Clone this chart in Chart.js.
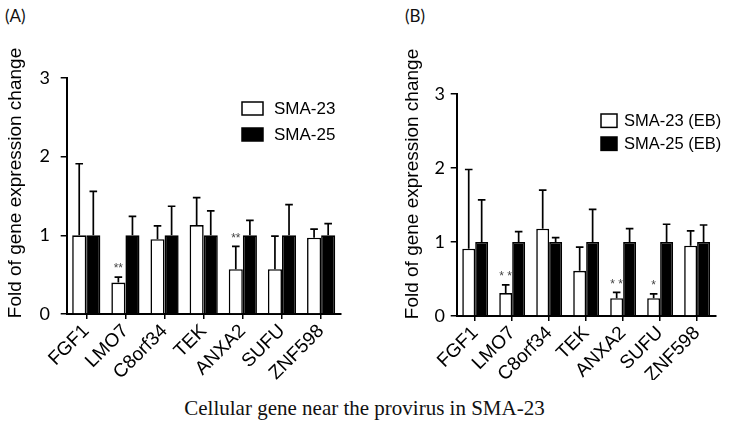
<!DOCTYPE html>
<html><head><meta charset="utf-8">
<script src="https://cdn.jsdelivr.net/npm/chart.js@4.4.1/dist/chart.umd.min.js"></script>
<style>
html,body{margin:0;padding:0;background:#fff;width:729px;height:433px;overflow:hidden;}
#a{position:absolute;left:0;top:0;width:360px;height:380px;}
#b{position:absolute;left:370px;top:0;width:359px;height:380px;}
.pl{position:absolute;font-family:Lato,sans-serif;font-size:17px;color:#111;}
#cap{position:absolute;left:0;width:729px;top:396px;text-align:center;font-family:"Liberation Serif",serif;font-size:21px;color:#111;}
</style></head><body>
<div class="pl" style="left:5px;top:5px">(A)</div>
<div class="pl" style="left:405px;top:5px">(B)</div>
<div id="a"><canvas id="ca"></canvas></div>
<div id="b"><canvas id="cb"></canvas></div>
<div id="cap">Cellular gene near the provirus in SMA-23</div>
<script>
const categories = ['FGF1','LMO7','C8orf34','TEK','ANXA2','SUFU','ZNF598'];
const axisTitle = 'Fold of gene expression change';
const yTicks = [0,1,2,3];

// Panel A
const seriesA = ['SMA-23','SMA-25'];
const a23 = [1.00, 0.40, 0.95, 1.13, 0.57, 0.57, 0.97];
const a23Err = [1.91, 0.47, 1.12, 1.48, 0.86, 0.99, 1.08];
const a23Stars = ['', '**', '', '', '**', '', ''];
const a25 = [1, 1, 1, 1, 1, 1, 1];
const a25Err = [1.56, 1.24, 1.37, 1.31, 1.19, 1.39, 1.15];

// Panel B
const seriesB = ['SMA-23 (EB)','SMA-25 (EB)'];
const b23 = [0.91, 0.31, 1.18, 0.61, 0.24, 0.24, 0.95];
const b23Err = [1.98, 0.42, 1.70, 0.93, 0.32, 0.30, 1.15];
const b23Stars = ['', '* *', '', '', '* *', '*', ''];
const b25 = [1, 1, 1, 1, 1, 1, 1];
const b25Err = [1.57, 1.14, 1.06, 1.44, 1.18, 1.24, 1.23];

const errPlugin = {
  id:'errBars',
  afterDatasetsDraw(chart){
    const ctx = chart.ctx, y = chart.scales.y;
    chart.data.datasets.forEach((ds,i)=>{
      const meta = chart.getDatasetMeta(i);
      meta.data.forEach((bar,j)=>{
        const top = y.getPixelForValue(ds.errTop[j]);
        const base = y.getPixelForValue(ds.data[j]);
        ctx.save();
        ctx.strokeStyle = '#000'; ctx.lineWidth = 1.7;
        ctx.beginPath();
        ctx.moveTo(bar.x, base); ctx.lineTo(bar.x, top);
        ctx.moveTo(bar.x-3.8, top); ctx.lineTo(bar.x+3.8, top);
        ctx.stroke();
        const s = ds.stars && ds.stars[j];
        if (s) {
          ctx.fillStyle = '#444';
          ctx.font = '12px "Liberation Sans"';
          ctx.textAlign = 'center'; ctx.textBaseline = 'middle';
          ctx.fillText(s, bar.x, top - 8);
        }
        ctx.restore();
      });
    });
  }
};

const legendPlugin = {
  id:'boxLegend',
  afterDraw(chart, args, o){
    const ctx = chart.ctx;
    chart.data.datasets.forEach((ds,i)=>{
      const x = o.x, y = o.y + i*o.gap;
      ctx.save();
      ctx.fillStyle = ds.backgroundColor; ctx.fillRect(x, y, o.w, o.h);
      ctx.strokeStyle = '#000'; ctx.lineWidth = 1.5; ctx.strokeRect(x, y, o.w, o.h);
      ctx.fillStyle = '#000'; ctx.font = o.font;
      ctx.textBaseline = 'middle'; ctx.textAlign = 'left';
      ctx.fillText(ds.label, x + o.w + o.textGap, y + o.h/2 + 1);
      ctx.restore();
    });
  }
};

const yTitlePlugin = {
  id:'yTitle',
  afterDraw(chart, args, o){
    const ctx = chart.ctx;
    ctx.save();
    ctx.translate(o.x, o.y);
    ctx.rotate(-Math.PI/2);
    ctx.fillStyle = '#000'; ctx.font = o.font;
    ctx.textAlign = 'center'; ctx.textBaseline = 'middle';
    ctx.fillText(o.text, 0, 0);
    ctx.restore();
  }
};

function makeChart(id, c){
  return new Chart(document.getElementById(id), {
    type:'bar',
    data:{labels:categories, datasets:[
      {label:c.labels[0], data:c.v1, errTop:c.e1, stars:c.s1, backgroundColor:'#fff', borderColor:'#000', borderWidth:1.6},
      {label:c.labels[1], data:c.v2, errTop:c.e2, backgroundColor:'#000', borderColor:'#000', borderWidth:1.6}
    ]},
    options:{
      responsive:true, maintainAspectRatio:false, animation:false,
      layout:{padding:{top:c.top, right:c.right, left:0, bottom:0}},
      datasets:{bar:{categoryPercentage:c.cat, barPercentage:1}},
      plugins:{legend:{display:false}, tooltip:{enabled:false}, boxLegend:c.legend,
        yTitle:{text:axisTitle, x:c.tx, y:c.ty, font:'19px "Liberation Sans"'}},
      scales:{
        x:{
          grid:{display:true, drawOnChartArea:false, color:'#000', lineWidth:1.5, tickLength:5, offset:false},
          border:{color:'#000', width:2},
          ticks:{color:'#000', font:{family:'Liberation Sans', size:c.xfs}, minRotation:45, maxRotation:45, padding:1, autoSkip:false},
          afterFit(s){ s.height = c.xh; }
        },
        y:{
          min:0, max:3,
          afterBuildTicks(s){ s.ticks = yTicks.map(v=>({value:v})); },
          ticks:{color:'#000', font:{family:'Lato', size:18}, padding:c.tickPad},
          grid:{drawOnChartArea:false, color:'#000', lineWidth:1.5, tickLength:6},
          border:{color:'#000', width:2},
          afterFit(s){ s.width = c.yw; }
        }
      }
    },
    plugins:[errPlugin, legendPlugin, yTitlePlugin]
  });
}

makeChart('ca', {labels:seriesA, v1:a23, e1:a23Err, s1:a23Stars, v2:a25, e2:a25Err,
  top:78, right:19.3, yw:66.7, xh:66, cat:0.72, tickPad:10.7, tx:16, ty:183, xfs:19,
  legend:{x:242, y:102, w:21, h:13, gap:26, textGap:11, font:'17px "Liberation Sans"'}});
makeChart('cb', {labels:seriesB, v1:b23, e1:b23Err, s1:b23Stars, v2:b25, e2:b25Err,
  top:94, right:13.4, yw:86.7, xh:64, cat:0.70, tickPad:5.7, tx:43, ty:184, xfs:19,
  legend:{x:231, y:114, w:16, h:13.4, gap:23, textGap:7, font:'16.5px "Liberation Sans"'}});
</script>
</body></html>
